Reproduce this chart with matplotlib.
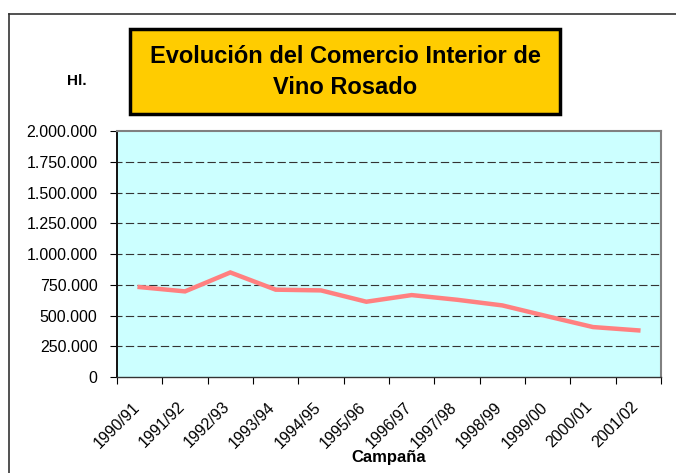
import matplotlib.pyplot as plt
from matplotlib.lines import Line2D
from matplotlib.patches import Rectangle
from matplotlib.ticker import FuncFormatter
from matplotlib.transforms import ScaledTranslation
import numpy as np

plt.rcParams["font.family"] = ["Liberation Sans", "DejaVu Sans"]

campanas = ["1990/91", "1991/92", "1992/93", "1993/94", "1994/95", "1995/96",
            "1996/97", "1997/98", "1998/99", "1999/00", "2000/01", "2001/02"]
hl = [731000, 696000, 850000, 710000, 704000, 612000,
      666000, 628000, 582000, 493000, 406000, 379000]
y_ticks = [0, 250000, 500000, 750000, 1000000, 1250000, 1500000, 1750000, 2000000]


def miles(v, pos):
    return f"{int(v):,}".replace(",", ".")


def main():
    fig = plt.figure(figsize=(6.76, 4.73), dpi=100)
    ax = fig.add_axes([117 / 676, 1 - 377 / 473, 544 / 676, 246 / 473])
    ax.set_facecolor("#CCFFFF")

    x = np.arange(len(campanas)) + 0.5
    ax.plot(x, hl, color="#FF8080", linewidth=3.2, solid_joinstyle="miter", zorder=3)

    ax.set_xlim(0, len(campanas))
    ax.set_ylim(0, 2000000)
    ax.set_yticks(y_ticks)
    ax.yaxis.set_major_formatter(FuncFormatter(miles))
    for v in y_ticks[1:-1]:
        ax.axhline(v, color="#333333", linewidth=0.8, linestyle=(3, (7.5, 3)), zorder=1)

    ax.set_xticks(x)
    ax.set_xticklabels(campanas, rotation=45, ha="right", rotation_mode="anchor")
    ax.tick_params(axis="x", length=0, pad=16, labelsize=11.5)
    shift = ScaledTranslation(-0.08, 0, fig.dpi_scale_trans)
    for lab in ax.get_xticklabels():
        lab.set_transform(lab.get_transform() + shift)
    ax.set_xticks(np.arange(len(campanas) + 1), minor=True)
    ax.tick_params(axis="x", which="minor", length=5, width=0.8, direction="out")
    ax.tick_params(axis="y", length=5, width=0.8, labelsize=11.5, pad=9)

    for side in ["top", "right"]:
        ax.spines[side].set_color("#808080")
        ax.spines[side].set_linewidth(1.5)
    ax.spines["left"].set_color("#111111")
    ax.spines["left"].set_linewidth(1.4)
    ax.spines["bottom"].set_color("#333333")
    ax.spines["bottom"].set_linewidth(1.0)

    ax.set_xlabel("Campaña", fontsize=12, fontweight="bold", va="center")
    ax.xaxis.set_label_coords(0.5, -80 / 246)

    # outer chart border (left and top only visible)
    fig.add_artist(Line2D([9 / 676, 9 / 676], [0, 1 - 14 / 473],
                          transform=fig.transFigure, color="#333333", linewidth=1.2))
    fig.add_artist(Line2D([9 / 676, 1], [1 - 14 / 473, 1 - 14 / 473],
                          transform=fig.transFigure, color="#333333", linewidth=1.2))

    # title box
    fig.add_artist(Rectangle((130 / 676, 1 - 114 / 473), 430 / 676, 85 / 473,
                             transform=fig.transFigure, facecolor="#FFCC00",
                             edgecolor="black", linewidth=2.5))
    fig.text(345 / 676, 1 - 72 / 473,
             "Evolución del Comercio Interior de\nVino Rosado",
             ha="center", va="center", fontsize=17, fontweight="bold",
             linespacing=1.45)
    fig.text(77 / 676, 1 - 81 / 473, "Hl.", ha="center", va="center",
             fontsize=11, fontweight="bold")

    fig.savefig("out.png", dpi=100)
    plt.close(fig)


if __name__ == "__main__":
    main()
